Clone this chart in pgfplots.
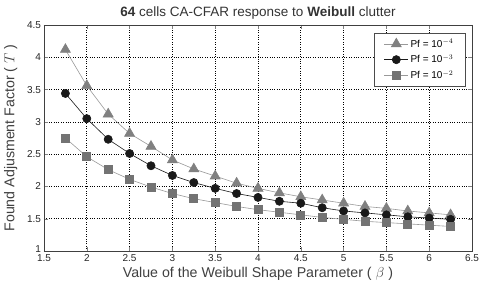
\documentclass[border=0pt]{standalone}
\usepackage{pgfplots}
\pgfplotsset{compat=1.18}
\usepackage{fontspec}
\setmainfont{Liberation Sans}
\definecolor{tri}{RGB}{128,128,128}
\definecolor{sq}{RGB}{115,115,115}
\definecolor{cir}{RGB}{25,25,25}
\begin{document}
\begin{tikzpicture}
\begin{axis}[
  scale only axis,
  width=428pt, height=226pt,
  xmin=1.5, xmax=6.5, ymin=1, ymax=4.5,
  xtick={1.5,2,...,6.5}, ytick={1,1.5,...,4.5},
  /pgf/number format/assume math mode=true,
  ticklabel style={font=\fontsize{10}{11}\selectfont, color=black!85},
  yticklabel style={xshift=0.5pt},
  yticklabel={\ifdim\tick pt<1.1pt\raisebox{3pt}{1}\else\pgfmathprintnumber{\tick}\fi},
  grid=major,
  major grid style={black, dotted, line width=0.7pt},
  tick align=inside,
  axis line style={black!75, line width=0.7pt},
  xlabel={Value of the Weibull Shape Parameter ( $\beta$ )},
  ylabel={Found Adjusment Factor ( $T$ )},
  label style={font=\fontsize{14.2}{15}\selectfont, color=black!75},
  xlabel style={yshift=1.5pt},
  ylabel style={yshift=3pt},
  title={\textbf{64} cells CA-CFAR response to \textbf{Weibull} clutter},
  title style={font=\fontsize{13.5}{14}\selectfont, color=black!80, yshift=-4pt},
  legend style={at={(0.985,0.965)}, anchor=north east, font=\fontsize{10}{11}\selectfont,
    draw=black!70, line width=0.6pt, fill=white, row sep=2pt, inner xsep=10pt, inner ysep=4pt,
    /tikz/every even column/.append style={column sep=8pt}},
  legend image code/.code={\draw[mark repeat=2,mark phase=2] plot coordinates {(0cm,0cm)(0.42cm,0cm)(0.84cm,0cm)};},
  legend cell align=center,
]
\addplot[color=black!40, line width=0.6pt, mark=triangle*, mark size=5.8pt, mark options={fill=tri, draw=tri}] coordinates {
(1.75,4.12)(2,3.56)(2.25,3.12)(2.5,2.82)(2.75,2.62)(3,2.41)(3.25,2.27)(3.5,2.16)(3.75,2.05)(4,1.97)(4.25,1.90)(4.5,1.84)(4.75,1.79)(5,1.74)(5.25,1.69)(5.5,1.66)(5.75,1.62)(6,1.59)(6.25,1.56)};
\addlegendentry{Pf = 10$^{-4}$}
\addplot[color=cir, line width=0.6pt, mark=*, mark size=4.1pt, mark options={fill=cir, draw=cir}] coordinates {
(1.75,3.44)(2,3.05)(2.25,2.73)(2.5,2.51)(2.75,2.32)(3,2.17)(3.25,2.06)(3.5,1.97)(3.75,1.89)(4,1.83)(4.25,1.77)(4.5,1.74)(4.75,1.67)(5,1.62)(5.25,1.59)(5.5,1.56)(5.75,1.53)(6,1.51)(6.25,1.49)};
\addlegendentry{Pf = 10$^{-3}$}
\addplot[color=black!40, line width=0.6pt, mark=square*, mark size=4pt, mark options={fill=sq, draw=sq}] coordinates {
(1.75,2.75)(2,2.46)(2.25,2.26)(2.5,2.11)(2.75,1.99)(3,1.89)(3.25,1.81)(3.5,1.75)(3.75,1.69)(4,1.64)(4.25,1.60)(4.5,1.56)(4.75,1.52)(5,1.49)(5.25,1.46)(5.5,1.44)(5.75,1.42)(6,1.40)(6.25,1.38)};
\addlegendentry{Pf = 10$^{-2}$}
\end{axis}
\pgfresetboundingbox
\useasboundingbox (-44pt,-35pt) rectangle (438pt,251pt);
\end{tikzpicture}
\end{document}
